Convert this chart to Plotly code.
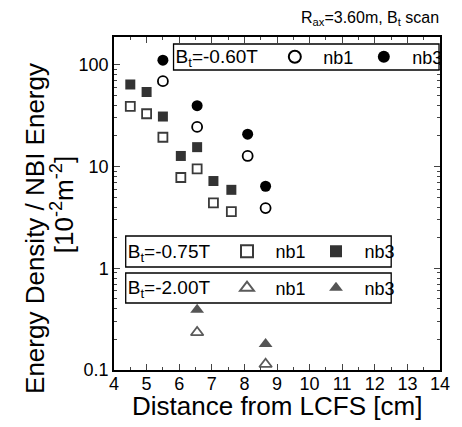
import plotly.graph_objects as go

# Distance from LCFS [cm]
x_075 = [4.5, 5.0, 5.5, 6.05, 6.55, 7.05, 7.6]
nb1_075 = [39, 33, 19.4, 7.8, 9.5, 4.4, 3.6]
nb3_075 = [64, 54, 31, 12.7, 15.5, 7.2, 5.9]

x_060 = [5.5, 6.55, 8.1, 8.65]
nb1_060 = [69, 24.5, 12.7, 3.9]
nb3_060 = [111, 39.6, 20.8, 6.4]

x_200 = [6.55, 8.65]
nb1_200 = [0.234, 0.114]
nb3_200 = [0.39, 0.18]

x_ticks = list(range(4, 15))
y_ticks = [0.1, 1, 10, 100]
y_ticklabels = ["0.1", "1", "10", "100"]

FONT = "Liberation Sans, Arial, sans-serif"

fig = go.Figure()

def add(x, y, name, symbol, color, legend, size):
    fig.add_trace(go.Scatter(
        x=x, y=y, mode="markers", name=name, legend=legend,
        marker=dict(symbol=symbol, size=size, color=color,
                    line=dict(color=color, width=1.8 if "open" in symbol else 0)),
    ))

add(x_060, nb1_060, "nb1", "circle-open", "#000000", "legend", 10)
add(x_060, nb3_060, "nb3", "circle", "#000000", "legend", 11)
add(x_075, nb1_075, "nb1", "square-open", "#3a3a3a", "legend2", 9)
add(x_075, nb3_075, "nb3", "square", "#333333", "legend2", 10)
add(x_200, nb1_200, "nb1", "triangle-up-open", "#5a5a5a", "legend3", 11)
add(x_200, nb3_200, "nb3", "triangle-up", "#555555", "legend3", 12)

L, R, T, B = 114, 14, 37, 57
W, H = 462, 427
pw, ph = W - L - R, H - T - B

def px_x(p):
    return (p - L) / pw

def px_y(p):
    return (H - B - p) / ph

# legend frames (pixel boxes: left, top, right, bottom)
frames = {"legend": (175, 44, 447, 70), "legend2": (126, 236, 398, 267),
          "legend3": (126, 273, 398, 303)}
titles = {"legend": "B<sub>t</sub>=-0.60T", "legend2": "B<sub>t</sub>=-0.75T",
          "legend3": "B<sub>t</sub>=-2.00T"}

leg_common = dict(orientation="h", xanchor="left", yanchor="middle",
                  bgcolor="rgba(0,0,0,0)", borderwidth=0,
                  font=dict(size=18, family=FONT, color="black"),
                  itemsizing="constant", traceorder="normal",
                  itemwidth=47, entrywidth=27, entrywidthmode="pixels")

legends = {}
for key, (x0, y0, x1, y1) in frames.items():
    fig.add_shape(type="rect", xref="paper", yref="paper",
                  x0=px_x(x0), x1=px_x(x1), y0=px_y(y0), y1=px_y(y1),
                  line=dict(color="black", width=1.3), fillcolor="white", layer="above")
    legends[key] = dict(x=px_x(x0), y=px_y((y0 + y1) / 2),
                        title=dict(text=titles[key], side="left",
                                   font=dict(size=19, family=FONT, color="black")),
                        **leg_common)

fig.update_layout(
    width=W, height=H,
    margin=dict(l=L, r=R, t=T, b=B),
    paper_bgcolor="white", plot_bgcolor="white",
    font=dict(family=FONT, color="black"),
    **legends,
    xaxis=dict(range=[4, 14], tickvals=x_ticks, ticks="inside", ticklen=6,
               tickwidth=1.3, showline=True, linewidth=1.5, linecolor="black",
               mirror="allticks", showgrid=False, zeroline=False,
               tickfont=dict(size=18, family=FONT), ticklabelstandoff=-3,
               minor=dict(ticks="inside", ticklen=3, dtick=0.5, tickwidth=1.2, showgrid=False)),
    yaxis=dict(type="log", range=[-1, 2.273], tickvals=y_ticks, ticktext=y_ticklabels,
               ticks="inside", ticklen=6, tickwidth=1.3, showline=True, linewidth=1.5,
               linecolor="black", mirror="allticks", showgrid=False, zeroline=False,
               tickfont=dict(size=18, family=FONT),
               minor=dict(ticks="inside", ticklen=3, tickwidth=1.2, showgrid=False,
                          tickvals=[m * d for d in [0.1, 1, 10, 100] for m in range(2, 10)])),
)

fig.add_annotation(text="Distance from LCFS [cm]", xref="paper", yref="paper",
                   x=0.5, y=px_y(406), xanchor="center", yanchor="middle", showarrow=False,
                   font=dict(size=26, family=FONT, color="black"))
fig.add_annotation(text="Energy Density / NBI Energy", xref="paper", yref="paper",
                   x=px_x(33), y=px_y(228), xanchor="center", yanchor="middle",
                   textangle=-90, showarrow=False,
                   font=dict(size=26, family=FONT, color="black"))
fig.add_annotation(text="[10<sup>-2</sup>m<sup>-2</sup>]", xref="paper", yref="paper",
                   x=px_x(62), y=px_y(205), xanchor="center", yanchor="middle",
                   textangle=-90, showarrow=False,
                   font=dict(size=26, family=FONT, color="black"))
fig.add_annotation(text="R<sub>ax</sub>=3.60m, B<sub>t</sub> scan", xref="paper", yref="paper",
                   x=px_x(449), y=px_y(18), xanchor="right", yanchor="middle", showarrow=False,
                   font=dict(size=16, family=FONT, color="black"))

fig.write_html("out.html", config={"displayModeBar": False},
               post_script="document.body.style.margin='0';document.body.style.overflow='hidden';")
